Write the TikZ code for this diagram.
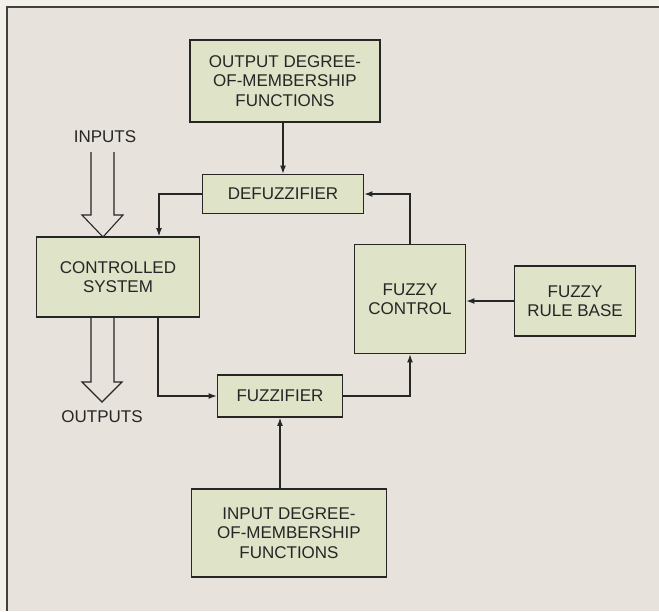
\documentclass[tikz,border=0pt]{standalone}
\usepackage{fontspec}
\setmainfont{Liberation Sans}
\usetikzlibrary{positioning, arrows.meta}
\definecolor{boxfill}{HTML}{DFE3C8}
\definecolor{paper}{HTML}{E7E3DC}
\definecolor{margin}{HTML}{F3F0EA}
\definecolor{ink}{HTML}{262626}

\begin{document}
\begin{tikzpicture}[
    x=1pt, y=-1pt,
    >=Latex,
    font=\fontsize{17}{19.5}\selectfont,
    text=ink,
    block/.style={draw=ink, line width=1.9pt, fill=boxfill, align=center, inner sep=0pt},
    link/.style={->, draw=ink, line width=1.1pt, >={Latex[length=8pt, width=6pt]}},
    hollow/.style={draw=ink, line width=1.1pt, fill=paper, line join=miter},
    tag/.style={inner sep=0pt},
]

% page and frame
\useasboundingbox (0,0) rectangle (659,611);
\fill[margin] (0,0) rectangle (659,611);
\fill[paper] (7,7) rectangle (659,611);
\draw[line width=1.5pt, black!75] (7,611) -- (7,7) -- (659,7);

% blocks
\node[block, minimum width=190pt, minimum height=82pt] (outdom) at (285,81) {OUTPUT DEGREE-\\OF-MEMBERSHIP\\FUNCTIONS};
\node[block, minimum width=161pt, minimum height=39pt] (defuzz) at (283,194) {DEFUZZIFIER};
\node[block, minimum width=163pt, minimum height=80pt] (plant) at (118,277) {CONTROLLED\\SYSTEM};
\node[block, minimum width=111pt, minimum height=109pt] (fcontrol) at (410,299) {FUZZY\\CONTROL};
\node[block, minimum width=121pt, minimum height=70pt] (rulebase) at (575,301) {FUZZY\\RULE BASE};
\node[block, minimum width=125pt, minimum height=42pt] (fuzz) at (280,396) {FUZZIFIER};
\node[block, minimum width=195pt, minimum height=88pt] (indom) at (289,533) {INPUT DEGREE-\\OF-MEMBERSHIP\\FUNCTIONS};

% inputs and outputs
\node[tag] (inputs) at (105,137) {INPUTS};
\node[tag] (outputs) at (102,417) {OUTPUTS};
\coordinate (intip) at (103,237);
\coordinate (outtip) at (102,402);

\draw[hollow] (91,152) -- (91,215) -- (82,215) -- (intip) -- (123,215) -- (114,215) -- (114,152);
\draw[hollow] (91,318) -- (91,382) -- (82,382) -- (outtip) -- (122,382) -- (114,382) -- (114,318);

% connectors
\draw[link] (defuzz.north |- outdom.south) -- (defuzz.north);
\draw[link] (defuzz.west) -| ([xshift=41pt]plant.north);
\draw[link] (fcontrol.north) |- (defuzz.east);
\draw[link] (rulebase.west) -- (rulebase.west -| fcontrol.east);
\draw[link] ([xshift=40pt]plant.south) |- (fuzz.west);
\draw[link] (fuzz.east) -| (fcontrol.south);
\draw[link] (indom.north -| fuzz.south) -- (fuzz.south);
\end{tikzpicture}
\end{document}
